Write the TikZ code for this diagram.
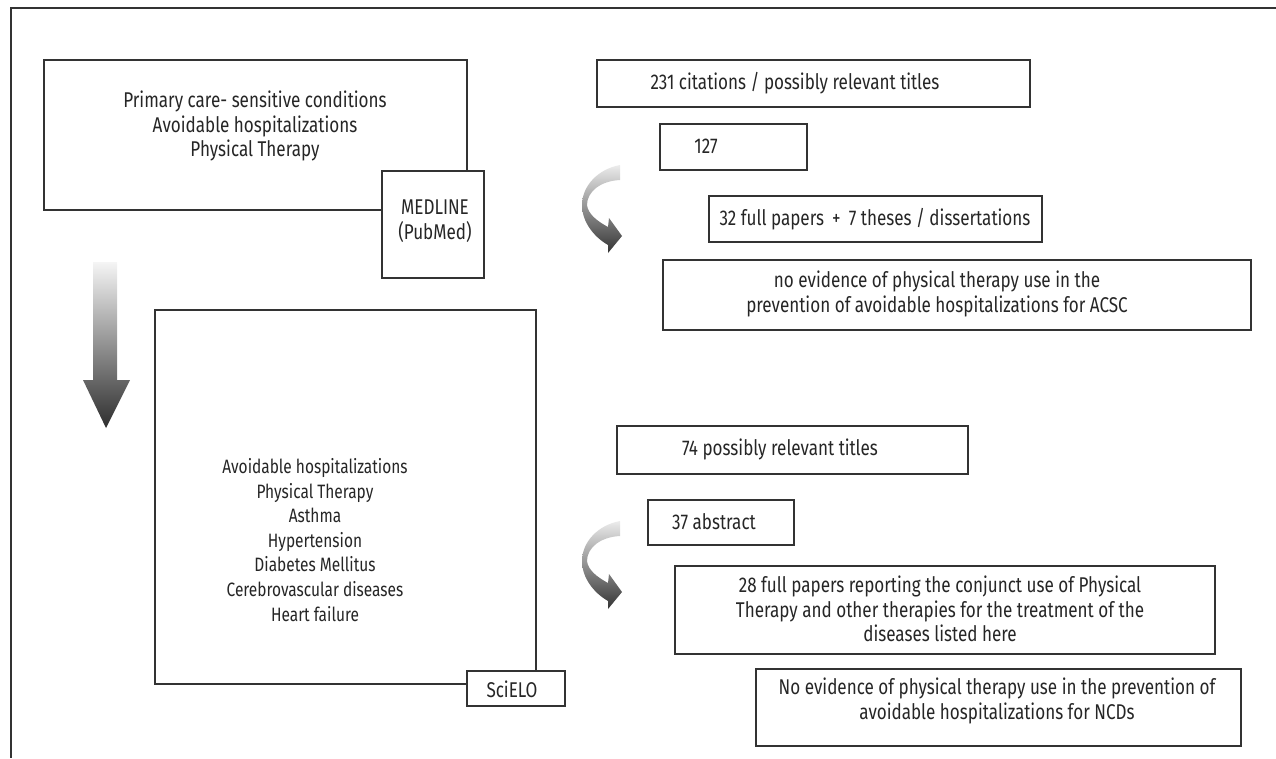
\documentclass[tikz,border=0pt]{standalone}
\usepackage{fontspec}
\setmainfont{Fira Sans}[FakeStretch=0.8]
\usetikzlibrary{fit}
\definecolor{ink}{HTML}{333333}
\definecolor{txtc}{HTML}{262626}
\tikzset{
  box/.style={draw=ink, line width=0.9pt, fill=white, inner sep=0pt},
  txt/.style={align=center, text=txtc, font=\fontsize{16}{18.4}\selectfont, inner sep=0pt},
  smalltxt/.style={txt, font=\fontsize{14.5}{18.4}\selectfont},
  frame/.style={draw=ink, line width=1.3pt},
  shadearrow/.style={top color=gray!8, bottom color=black!82, draw=none},
  curvarrow/.pic={
    \path[top color=gray!15, bottom color=black!80, draw=none]
      (620,165) .. controls (598,169) and (582,186) .. (582,205)
      .. controls (582,222) and (594,237) .. (608,245)
      -- (608,253) -- (622,236) -- (609,218) -- (608,227)
      .. controls (597,221) and (588,214) .. (587,205)
      .. controls (587,192) and (600,181) .. (620,180) -- cycle;
  }
}
\begin{document}
\begin{tikzpicture}[x=0.75pt,y=-0.75pt]
\useasboundingbox (0,0) rectangle (1276,758);
% frame
\coordinate (fTL) at (11,8);
\coordinate (fTR) at (1276,8);
\coordinate (fBL) at (11,758);
\draw[frame] (fTR) -- (fTL) -- (fBL);

% upper left group
\node[box, fit={(44,60) (467,210)}] (A) {};
\node[txt] (Atxt) at (255,126) {Primary care- sensitive conditions\\Avoidable hospitalizations\\Physical Therapy};
\node[box, fit={(382,171) (484,278)}] (M) {};
\node[txt] (Mtxt) at (435,221) {MEDLINE\\(PubMed)};

% vertical arrow
\path[shadearrow] (93,262) -- (117,262) -- (117,380) -- (130,380) -- (106,428) -- (83,380) -- (93,380) -- cycle;

% lower left group
\node[box, fit={(155,310) (536,684)}] (B) {};
\node[smalltxt] (Btxt) at (315,540) {Avoidable hospitalizations\\Physical Therapy\\Asthma\\Hypertension\\Diabetes Mellitus\\Cerebrovascular diseases\\Heart failure};
\node[box, fit={(467,671) (565,706)}] (S) {};
\node[txt] (Stxt) at (512,689) {SciELO};

% upper right results
\node[box, fit={(597,60) (1030,107)}] (R1) {};
\node[txt] (R1t) at (795,83) {231 citations / possibly relevant titles};
\node[box, fit={(660,124) (807,170)}] (R2) {};
\node[txt] (R2t) at (706,146) {127};
\node[box, fit={(709,196) (1042,242)}] (R3) {};
\node[txt] (R3t) at (875,219) {32 full papers \,+\, 7 theses / dissertations};
\node[box, fit={(663,260) (1251,330)}] (R4) {};
\node[txt] (R4t) at (937,294) {no evidence of physical therapy use in the\\prevention of avoidable hospitalizations for ACSC};
\pic at (0,0) {curvarrow};

% lower right results
\node[box, fit={(617,426) (968,474)}] (L1) {};
\node[txt] (L1t) at (780,449) {74 possibly relevant titles};
\node[box, fit={(648,500) (794,545)}] (L2) {};
\node[txt] (L2t) at (714,522) {37 abstract};
\node[box, fit={(675,566) (1215,654)}] (L3) {};
\node[txt] (L3t) at (940,609) {28 full papers reporting the conjunct use of Physical\\Therapy and other therapies for the treatment of the\\diseases listed here};
\node[box, fit={(756,669) (1241,746)}] (L4) {};
\node[txt] (L4t) at (997,701) {No evidence of physical therapy use in the prevention of\\avoidable hospitalizations for NCDs};
\pic at (0,356) {curvarrow};
\end{tikzpicture}
\end{document}
